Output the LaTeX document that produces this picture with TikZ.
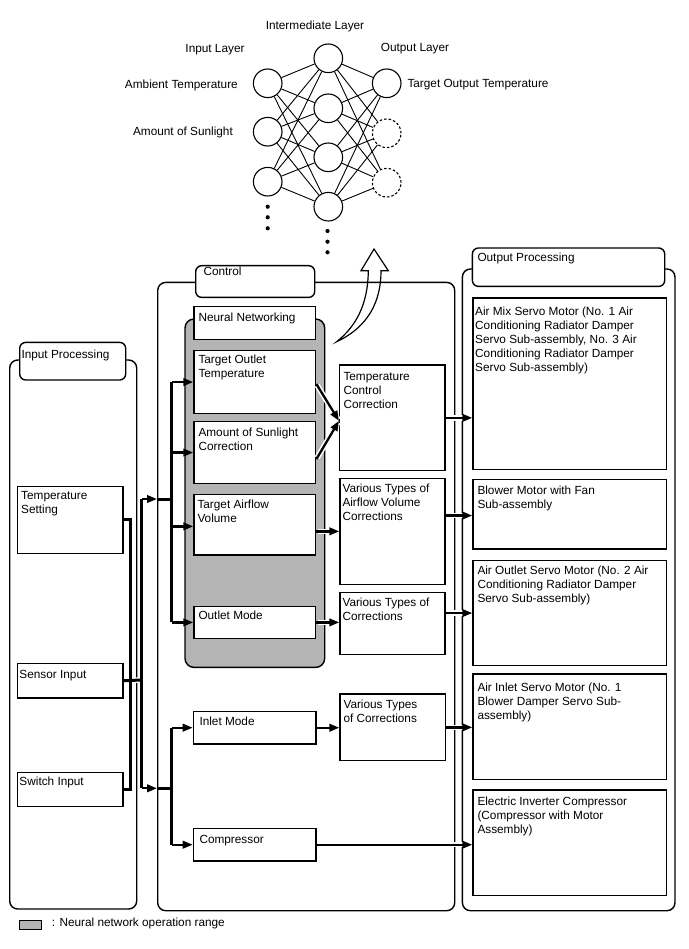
\documentclass[tikz,border=0pt]{standalone}
\usepackage{fontspec}
\setmainfont{Liberation Sans}
\usetikzlibrary{arrows.meta}
\definecolor{nngray}{RGB}{180,180,180}
\newcommand\mkbox[8]{%
  \node[bx,minimum width=#4pt,minimum height=#5pt] (#1) at (#2,#3) {};
  \node[txt] (#1-t) at ([xshift=#6pt,yshift=-#7pt]#1.north west) {#8};}
\begin{document}
\begin{tikzpicture}[x=1pt,y=-1pt,
  every node/.style={font=\fontsize{11.8}{14}\selectfont},
  bx/.style={draw,line width=1.4pt,fill=white,rectangle,inner sep=0pt,anchor=north west},
  txt/.style={anchor=north west,inner sep=0pt,align=left},
  grp/.style={draw,line width=1.4pt,rounded corners=8pt,rectangle,inner sep=0pt,anchor=north west},
  lbl/.style={grp,fill=white,rounded corners=6pt},
  arr/.style={line width=2.3pt,-{Triangle[length=10pt,width=7.5pt]}},
  bus/.style={line width=3pt},
  halo/.style={preaction={draw=white,line width=5.5pt,-,shorten <=1.5pt,shorten >=1.5pt}},
  neu/.style={circle,draw,line width=1.1pt,minimum size=28.6pt,inner sep=0pt},
  lk/.style={line width=0.9pt},
  lab/.style={anchor=base,inner sep=0pt},
]
\useasboundingbox (0,0) rectangle (688,949);

% ---------------- neural network ----------------
\node[neu] (i1) at (267.7,83.3) {};
\node[neu] (i2) at (267.7,131.7) {};
\node[neu] (i3) at (267.7,181.7) {};
\node[neu] (h1) at (328.3,58.3) {};
\node[neu] (h2) at (328.3,108.3) {};
\node[neu] (h3) at (328.3,157.3) {};
\node[neu] (h4) at (328.3,206.7) {};
\node[neu] (o1) at (386.7,83.3) {};
\node[neu,dash pattern=on 2.5pt off 2pt] (o2) at (386.7,133.3) {};
\node[neu,dash pattern=on 2.5pt off 2pt] (o3) at (386.7,182.7) {};
\foreach \a in {i1,i2,i3}{\foreach \b in {h1,h2,h3,h4}{\draw[lk] (\a) -- (\b);}}
\foreach \a in {h1,h2,h3,h4}{\foreach \b in {o1,o2,o3}{\draw[lk] (\a) -- (\b);}}
\foreach \y in {206.7,217.3,228.3}{\fill (267.7,\y) circle (2.1pt);}
\foreach \y in {231,241.7,252.3}{\fill (327.5,\y) circle (2.1pt);}
\node[lab] (lint) at (315,29.2) {Intermediate Layer};
\node[lab] (linp) at (215,52.5) {Input Layer};
\node[lab] (lout) at (415,51.2) {Output Layer};
\node[lab,anchor=base east] (lamb) at (238,88.2) {Ambient Temperature};
\node[lab,anchor=base east] (lsun) at (233,135.9) {Amount of Sunlight};
\node[lab,anchor=base west] (ltgt) at (407.3,87.2) {Target Output Temperature};

% ---------------- group frames ----------------
\node[grp,minimum width=127pt,minimum height=549pt] (ipo) at (9,359.3) {};
\node[grp,minimum width=297pt,minimum height=628.3pt] (cto) at (157,281.7) {};
\node[grp,minimum width=212.6pt,minimum height=641.7pt] (opo) at (461.7,268.3) {};
\node[grp,fill=nngray,rounded corners=9pt,minimum width=139.7pt,minimum height=348.4pt] (nnr) at (184.3,318.3) {};

\node[lbl,minimum width=106pt,minimum height=37.6pt] (ipl) at (19,341.7) {};
\node[txt] (ipl-t) at ([xshift=2.3pt,yshift=-8pt]ipl.north west) {Input Processing};
\node[lbl,minimum width=119pt,minimum height=31.7pt] (ctl) at (195,265) {};
\node[txt] (ctl-t) at ([xshift=8.3pt,yshift=-1.8pt]ctl.north west) {Control};
\node[lbl,minimum width=192.3pt,minimum height=38.4pt] (opl) at (471.7,247.3) {};
\node[txt] (opl-t) at ([xshift=5.6pt,yshift=-5.2pt]opl.north west) {Output Processing};

% big hollow arrow
\draw[line width=1.2pt,line join=miter]
  (336.7,341.7) .. controls (355,327) and (368,306) .. (368.3,270.7)
  -- (361,270.7) -- (374,249) -- (388.3,270.7) -- (381,270.7)
  .. controls (381,302) and (368,327) .. cycle;

% ---------------- boxes ----------------
\mkbox{ts}{16.7}{485.7}{105.6}{67}{4.3}{5.8}{Temperature\\Setting}
\mkbox{si}{16.7}{662.7}{105.6}{34.6}{2.6}{7.1}{Sensor Input}
\mkbox{sw}{16.7}{771.7}{105.6}{34.3}{2.6}{5.1}{Switch Input}

\mkbox{nn}{193.3}{306}{121.7}{33}{5}{6.5}{Neural Networking}
\mkbox{to}{193.3}{350}{121.7}{62.7}{5}{4.8}{Target Outlet\\Temperature}
\mkbox{as}{193.3}{421}{121.7}{61.7}{5}{7}{Amount of Sunlight\\Correction}
\mkbox{ta}{193.3}{494}{121.7}{60.3}{4}{5.8}{Target Airflow\\Volume}
\mkbox{om}{193.3}{605.7}{121.7}{32}{5}{5.1}{Outlet Mode}
\mkbox{im}{192.7}{710.7}{122.6}{32.6}{6.6}{5.8}{Inlet Mode}
\mkbox{cp}{192.7}{827.7}{122.6}{32.6}{6.6}{7.1}{Compressor}

\mkbox{tc}{339}{364.3}{105.3}{105.7}{4.3}{7.5}{Temperature\\Control\\Correction}
\mkbox{va}{339.3}{477.7}{105}{106.3}{3}{5.8}{Various Types of\\Airflow Volume\\Corrections}
\mkbox{vc}{339.3}{591.7}{105}{62.3}{3}{5.8}{Various Types of\\Corrections}
\mkbox{vcb}{339.3}{693.3}{105.7}{66.7}{4}{6.5}{Various Types\\of Corrections}

\mkbox{am}{472.3}{297.3}{193.4}{171.7}{2.7}{9.2}{Air Mix Servo Motor (No. 1 Air\\Conditioning Radiator Damper\\Servo Sub-assembly, No. 3 Air\\Conditioning Radiator Damper\\Servo Sub-assembly)}
\mkbox{bm}{472.3}{479}{193.4}{69.3}{5}{6.8}{Blower Motor with Fan\\Sub-assembly}
\mkbox{ao}{472.3}{560}{193.4}{105}{5}{5.8}{Air Outlet Servo Motor (No. 2 Air\\Conditioning Radiator Damper\\Servo Sub-assembly)}
\mkbox{ai}{472.3}{673.3}{193.4}{105.7}{5}{9.8}{Air Inlet Servo Motor (No. 1\\Blower Damper Servo Sub-\\assembly)}
\mkbox{ei}{472.3}{789.3}{193.4}{105.7}{5}{7.5}{Electric Inverter Compressor\\(Compressor with Motor\\Assembly)}

% ---------------- input bus ----------------
\coordinate (ja) at (130,680);
\coordinate (jb) at (141.7,680);
\coordinate (bt) at (141.7,499);
\coordinate (bb) at (141.7,788.3);
\coordinate (ct) at (157,499);
\coordinate (cb) at (157,788.3);
\coordinate (xb) at (171.7,0);
\draw[bus,halo] (si.east) -- (jb);
\draw[bus] (ts.east) -| (ja);
\draw[bus] (sw.east) -| (ja);
\draw[bus] (bt) -- (bb);
\draw[arr] (bt) -- (ct);
\draw[arr] (bb) -- (cb);
\draw[bus] (ct) -- (ct -| xb);
\draw[bus] (cb) -- (cb -| xb);
\draw[bus] (to.west -| xb) -- (om.west -| xb);
\draw[bus] (im.west -| xb) -- (cp.west -| xb);
\draw[arr] (to.west -| xb) -- (to.west);
\draw[arr] (as.west -| xb) -- (as.west);
\draw[arr] ([yshift=-1.5pt]ta.west -| xb) -- ([yshift=-1.5pt]ta.west);
\draw[arr] (om.west -| xb) -- (om.west);
\draw[arr] (im.west -| xb) -- (im.west);
\draw[arr] (cp.west -| xb) -- (cp.west);

% ---------------- control internal ----------------
\draw[arr,halo] ([yshift=-2pt]to.east) -- ([yshift=-3pt]tc.west);
\draw[arr,halo] ([yshift=-6.5pt]as.east) -- ([yshift=-3pt]tc.west);
\draw[arr,halo] ([yshift=-6.5pt]ta.east) -- ([yshift=-6.5pt]ta.east -| va.west);
\draw[arr,halo] (om.east) -- (om.east -| vc.west);
\draw[arr,halo] (im.east) -- (im.east -| vcb.west);
\draw[arr,halo] (cp.east) -- (cp.east -| ei.west);

% ---------------- to outputs ----------------
\draw[arr,halo] (tc.east) -- (tc.east -| am.west);
\draw[arr,halo] ([yshift=16pt]va.east) -- ([yshift=16pt]va.east -| bm.west);
\draw[arr,halo] ([yshift=10.5pt]vc.east) -- ([yshift=10.5pt]vc.east -| ao.west);
\draw[arr,halo] (vcb.east) -- (vcb.east -| ai.west);

% ---------------- legend ----------------
\node[draw,line width=1.1pt,fill=nngray,minimum width=21.4pt,minimum height=9.3pt,inner sep=0pt,anchor=north west] (leg) at (19.3,920) {};
\node[lab,anchor=base west] (leg-t) at (51.7,926.5) {: Neural network operation range};
\end{tikzpicture}
\end{document}
